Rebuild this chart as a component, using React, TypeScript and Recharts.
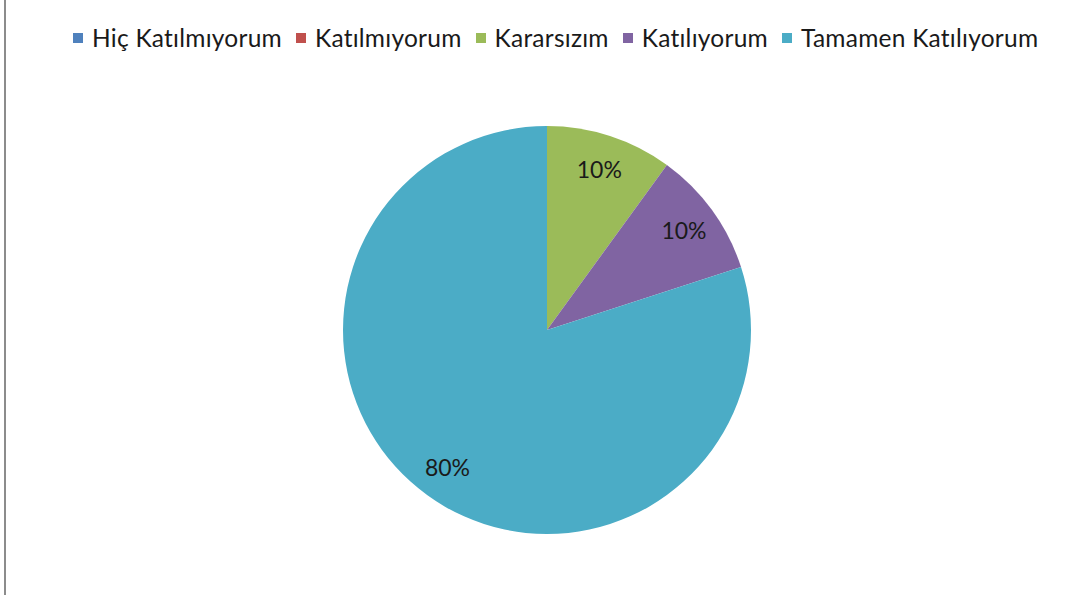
import React from "react";
import { PieChart, Pie, Cell } from "recharts";

const categories = ["Hiç Katılmıyorum", "Katılmıyorum", "Kararsızım", "Katılıyorum", "Tamamen Katılıyorum"];
const values = [0, 0, 10, 10, 80];
const colors = ["#4F81BD", "#C0504D", "#9BBB59", "#8064A2", "#4BACC6"];

const data = categories.map((name, i) => ({ name, value: values[i] }));
const total = values.reduce((a, b) => a + b, 0);

const FONT = "Lato, 'Open Sans', sans-serif";
const RAD = Math.PI / 180;

const renderLabel = (props: any) => {
  const { cx, cy, midAngle, outerRadius, value } = props;
  if (!value) return null;
  const r = outerRadius * 0.83;
  const x = cx + r * Math.cos(-midAngle * RAD);
  const y = cy + r * Math.sin(-midAngle * RAD);
  return (
    <text x={x} y={y} textAnchor="middle" dominantBaseline="central" fill="#1a1a1a" fontSize={23} fontFamily={FONT}>
      {`${Math.round((value / total) * 100)}%`}
    </text>
  );
};

export default function App() {
  return (
    <div style={{ position: "absolute", left: 0, top: 0, width: 1081, height: 595, background: "#fff", overflow: "hidden" }}>
      <div style={{ position: "absolute", left: 4, top: 0, width: 2, height: 595, background: "#8c8c8c" }} />
      <div
        style={{
          position: "absolute",
          left: 73,
          top: 23,
          display: "flex",
          alignItems: "center",
          fontFamily: FONT,
          fontSize: 24.5,
          letterSpacing: 0.25,
          color: "#1a1a1a",
          whiteSpace: "nowrap",
        }}
      >
        {categories.map((c, i) => (
          <div key={c} style={{ display: "flex", alignItems: "center", marginRight: 14 }}>
            <span style={{ display: "inline-block", width: 10, height: 10, background: colors[i], marginRight: 9 }} />
            <span>{c}</span>
          </div>
        ))}
      </div>
      <div style={{ position: "absolute", left: 0, top: 0 }}>
        <PieChart width={1081} height={595} margin={{ top: 0, right: 0, bottom: 0, left: 0 }}>
          <Pie
            data={data}
            dataKey="value"
            nameKey="name"
            cx={547}
            cy={330}
            outerRadius={204}
            startAngle={90}
            endAngle={-270}
            stroke="none"
            label={renderLabel}
            labelLine={false}
            isAnimationActive={false}
          >
            {data.map((d, i) => (
              <Cell key={d.name} fill={colors[i]} />
            ))}
          </Pie>
        </PieChart>
      </div>
    </div>
  );
}
